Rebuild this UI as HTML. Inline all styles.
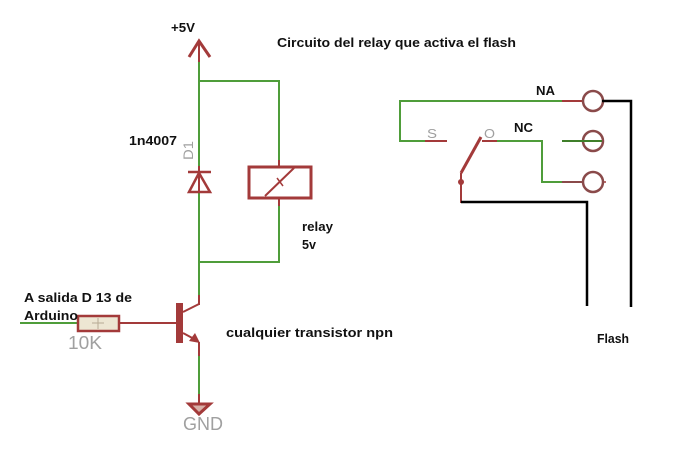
<!DOCTYPE html>
<html>
<head>
<meta charset="utf-8">
<style>
  html,body{margin:0;padding:0;background:#fff;}
  svg{display:block;}
  .b{font-family:"Liberation Sans",sans-serif;font-weight:bold;font-size:13px;fill:#111;}
  .g{font-family:"Liberation Sans",sans-serif;fill:#a0a0a0;}
</style>
</head>
<body>
<svg width="685" height="460" viewBox="0 0 685 460" xmlns="http://www.w3.org/2000/svg">
  <rect width="685" height="460" fill="#fff"/>
  <g fill="none" stroke-linecap="butt" stroke-linejoin="miter">
    <!-- +5V arrow -->
    <polyline points="189,57 199,41 210,57" stroke="#a33a3a" stroke-width="3"/>
    <line x1="199" y1="41" x2="199" y2="62" stroke="#a33a3a" stroke-width="2"/>
    <!-- main vertical -->
    <line x1="199" y1="62" x2="199" y2="166" stroke="#4f9d3a" stroke-width="2"/>
    <polyline points="199,81 279,81 279,160" stroke="#4f9d3a" stroke-width="2"/>
    <line x1="279" y1="160" x2="279" y2="167" stroke="#a33a3a" stroke-width="2"/>
    <line x1="279" y1="198" x2="279" y2="206" stroke="#a33a3a" stroke-width="2"/>
    <polyline points="279,206 279,262 199,262" stroke="#4f9d3a" stroke-width="2"/>
    <line x1="199" y1="193" x2="199" y2="295" stroke="#4f9d3a" stroke-width="2"/>
    <line x1="199" y1="295" x2="199" y2="305" stroke="#a33a3a" stroke-width="2"/>
    <!-- diode -->
    <line x1="199" y1="166" x2="199" y2="193" stroke="#a33a3a" stroke-width="2"/>
    <line x1="188" y1="172" x2="211" y2="172" stroke="#a33a3a" stroke-width="2.5"/>
    <polygon points="199,173 189,192 210,192" stroke="#a33a3a" stroke-width="2.5"/>
    <!-- relay coil -->
    <rect x="249" y="167" width="62" height="31" stroke="#a33a3a" stroke-width="3"/>
    <line x1="265" y1="196" x2="294" y2="168" stroke="#a33a3a" stroke-width="2"/>
    <line x1="277" y1="178" x2="283" y2="186" stroke="#a33a3a" stroke-width="1.5"/>
    <!-- input wire + resistor -->
    <line x1="20" y1="323" x2="78" y2="323" stroke="#4f9d3a" stroke-width="2"/>
    <rect x="78" y="316" width="41" height="15" fill="#ede6d3" stroke="#a33a3a" stroke-width="2.5"/>
    <line x1="92" y1="323" x2="104" y2="323" stroke="#b8ab94" stroke-width="1"/>
    <line x1="98" y1="318" x2="98" y2="329" stroke="#b8ab94" stroke-width="1"/>
    <line x1="119" y1="323" x2="177" y2="323" stroke="#a33a3a" stroke-width="2"/>
    <!-- transistor -->
    <rect x="176" y="303" width="7" height="40" fill="#a33a3a" stroke="none"/>
    <polyline points="183,312 199,304" stroke="#a33a3a" stroke-width="2"/>
    <line x1="183" y1="333" x2="196" y2="340" stroke="#a33a3a" stroke-width="2"/>
    <polygon points="200,343 189,341 195,333" fill="#a33a3a" stroke="none"/>
    <line x1="199" y1="342" x2="199" y2="356" stroke="#a33a3a" stroke-width="2"/>
    <line x1="199" y1="356" x2="199" y2="394" stroke="#4f9d3a" stroke-width="2"/>
    <line x1="199" y1="394" x2="199" y2="403" stroke="#a33a3a" stroke-width="2"/>
    <!-- GND -->
    <polygon points="189,404 210,404 199,414" stroke="#a33a3a" stroke-width="3" fill="#d8b0a8"/>

    <!-- right switch circuit -->
    <polyline points="562,101 400,101 400,141 425,141" stroke="#4f9d3a" stroke-width="2"/>
    <line x1="562" y1="101" x2="583" y2="101" stroke="#a33a3a" stroke-width="2"/>
    <line x1="425" y1="141" x2="447" y2="141" stroke="#a33a3a" stroke-width="2"/>
    <line x1="482" y1="141" x2="497" y2="141" stroke="#a33a3a" stroke-width="2"/>
    <polyline points="497,141 542,141 542,182 562,182" stroke="#4f9d3a" stroke-width="2"/>
    <line x1="562" y1="182" x2="583" y2="182" stroke="#8a4a4a" stroke-width="2"/>
    <line x1="603" y1="182" x2="606" y2="182" stroke="#a33a3a" stroke-width="1.5"/>
    <circle cx="593" cy="101" r="10" stroke="#8a4a4a" stroke-width="2.5"/>
    <circle cx="593" cy="141" r="10" stroke="#8a4a4a" stroke-width="2.5"/>
    <circle cx="593" cy="182" r="10" stroke="#8a4a4a" stroke-width="2.5"/>
    <line x1="562" y1="141" x2="602" y2="141" stroke="#3f7f2a" stroke-width="2"/>
    <!-- lever -->
    <line x1="481" y1="137" x2="461" y2="173" stroke="#a33a3a" stroke-width="3"/>
    <line x1="461" y1="173" x2="461" y2="203" stroke="#a33a3a" stroke-width="2"/>
    <circle cx="461" cy="182" r="3" fill="#a33a3a" stroke="none"/>
    <!-- flash black wires -->
    <polyline points="602,101 631,101 631,307" stroke="#000" stroke-width="2.5"/>
    <polyline points="461,202 587,202 587,306" stroke="#000" stroke-width="2.5"/>
  </g>

  <!-- labels -->
  <text class="b" x="171" y="32" textLength="24" lengthAdjust="spacingAndGlyphs">+5V</text>
  <text class="b" x="277" y="47" textLength="239" lengthAdjust="spacingAndGlyphs">Circuito del relay que activa el flash</text>
  <text class="b" x="129" y="145" textLength="48" lengthAdjust="spacingAndGlyphs">1n4007</text>
  <text class="g" x="0" y="0" font-size="14" transform="translate(193,160) rotate(-90)" textLength="19" lengthAdjust="spacingAndGlyphs">D1</text>
  <text class="b" x="302" y="231" textLength="31" lengthAdjust="spacingAndGlyphs">relay</text>
  <text class="b" x="302" y="249" textLength="14" lengthAdjust="spacingAndGlyphs">5v</text>
  <text class="b" x="24" y="302" font-size="14" textLength="108" lengthAdjust="spacingAndGlyphs">A salida D 13 de</text>
  <text class="b" x="24" y="320" font-size="14" textLength="54" lengthAdjust="spacingAndGlyphs">Arduino</text>
  <text class="g" x="68" y="349" font-size="18" textLength="34" lengthAdjust="spacingAndGlyphs">10K</text>
  <text class="b" x="226" y="337" textLength="167" lengthAdjust="spacingAndGlyphs">cualquier transistor npn</text>
  <text class="g" x="183" y="430" font-size="18" textLength="40" lengthAdjust="spacingAndGlyphs">GND</text>
  <text class="b" x="536" y="95" textLength="19" lengthAdjust="spacingAndGlyphs">NA</text>
  <text class="b" x="514" y="132" textLength="19" lengthAdjust="spacingAndGlyphs">NC</text>
  <text class="g" x="427" y="138" font-size="13" textLength="10" lengthAdjust="spacingAndGlyphs">S</text>
  <text class="g" x="484" y="138" font-size="13" textLength="11" lengthAdjust="spacingAndGlyphs">O</text>
  <text class="b" x="597" y="343" textLength="32" lengthAdjust="spacingAndGlyphs">Flash</text>
</svg>
</body>
</html>
